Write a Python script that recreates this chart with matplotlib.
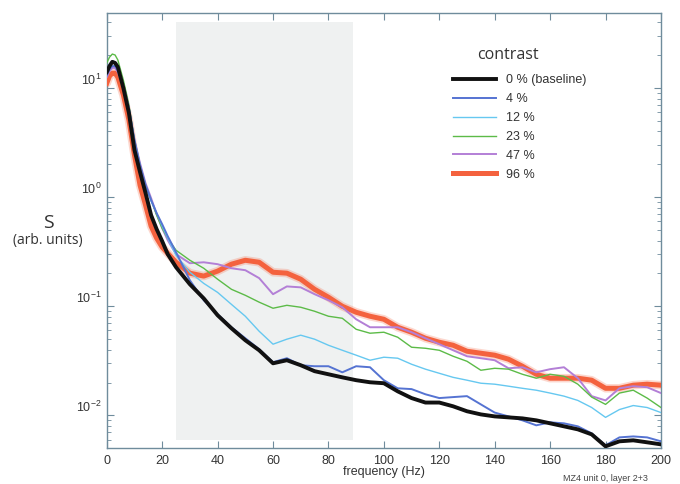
import numpy as np
import matplotlib
matplotlib.use('Agg')
import matplotlib.pyplot as plt
import matplotlib.transforms as mtransforms

plt.rcParams['font.family'] = ['Liberation Sans', 'DejaVu Sans']

# frequencies (Hz) at which the curves were read
freq = [0, 1, 2, 3, 4, 6, 8, 10, 12, 14, 16, 18, 20, 22,
        25, 30, 35, 40, 45, 50, 55, 60, 65, 70, 75, 80, 85, 90, 95, 100,
        105, 110, 115, 120, 125, 130, 135, 140, 145, 150, 155, 160, 165, 170,
        175, 180, 185, 190, 195, 200]

s_0 = [14.0, 15.9, 17.4, 17.0, 15.6, 10.0, 5.90, 2.70, 1.70, 1.09, 0.684, 0.509, 0.395, 0.300,
       0.228, 0.159, 0.118, 0.0827, 0.0628, 0.0488, 0.0395, 0.0300, 0.0320, 0.0288, 0.0254,
       0.0238, 0.0223, 0.0210, 0.0201, 0.0197, 0.0166, 0.0144, 0.0131, 0.0131, 0.0121, 0.0109,
       0.0102, 0.00978, 0.00958, 0.00938, 0.0090, 0.00845, 0.00793, 0.00744, 0.00669, 0.0052,
       0.00578, 0.0059, 0.00566, 0.00542]

s_4 = [13.1, 15.0, 15.9, 15.9, 14.6, 10.4, 6.55, 3.33, 1.96, 1.29, 0.94, 0.714, 0.565, 0.439,
       0.313, 0.173, 0.1135, 0.0845, 0.0642, 0.0509, 0.0404, 0.0307, 0.0334, 0.0288, 0.0282,
       0.0282, 0.0248, 0.0282, 0.0276, 0.0210, 0.0177, 0.0174, 0.0156, 0.0144, 0.0147, 0.0150,
       0.0126, 0.0106, 0.00978, 0.0090, 0.0081, 0.00863, 0.00845, 0.00793, 0.00684, 0.00531,
       0.00628, 0.00641, 0.00628, 0.00578]

s_12 = [14.6, 16.6, 17.7, 17.4, 15.9, 10.8, 6.55, 3.19, 1.92, 1.26, 0.921, 0.714, 0.542, 0.421,
        0.293, 0.205, 0.162, 0.134, 0.104, 0.0810, 0.0590, 0.0449, 0.0499, 0.0543, 0.0499,
        0.0439, 0.0395, 0.0356, 0.0320, 0.0341, 0.0334, 0.0294, 0.0265, 0.0243, 0.0223, 0.0210,
        0.0197, 0.0193, 0.0185, 0.0177, 0.0170, 0.0160, 0.0150, 0.0137, 0.0118, 0.00958,
        0.0113, 0.0123, 0.0118, 0.0106]

s_23 = [17.0, 19.2, 20.5, 20.1, 18.1, 11.8, 6.98, 3.33, 1.96, 1.29, 0.94, 0.684, 0.519, 0.421,
        0.326, 0.264, 0.223, 0.177, 0.143, 0.126, 0.109, 0.0959, 0.102, 0.0979, 0.0900,
        0.0810, 0.0776, 0.0615, 0.0566, 0.0578, 0.0520, 0.0421, 0.0412, 0.0395, 0.0348, 0.0313,
        0.0259, 0.0270, 0.0265, 0.0238, 0.0219, 0.0238, 0.0228, 0.0193, 0.0147, 0.0126,
        0.0160, 0.0170, 0.0144, 0.0118]

s_47 = [12.6, 14.3, 15.3, 15.3, 14.0, 10.0, 6.28, 3.33, 2.05, 1.34, 0.980, 0.699, 0.519, 0.403,
        0.300, 0.248, 0.253, 0.243, 0.223, 0.214, 0.181, 0.129, 0.152, 0.149, 0.129,
        0.1135, 0.0979, 0.0760, 0.0642, 0.0642, 0.0642, 0.0578, 0.0509, 0.0449, 0.0395, 0.0348,
        0.0334, 0.0320, 0.0270, 0.0276, 0.0248, 0.0265, 0.0276, 0.0219, 0.0150, 0.0137,
        0.0177, 0.0185, 0.0181, 0.0160]

s_96 = [11.1, 12.9, 13.7, 13.7, 12.6, 8.64, 5.09, 2.43, 1.29, 0.846, 0.542, 0.421, 0.348, 0.306,
        0.253, 0.201, 0.189, 0.210, 0.243, 0.264, 0.253, 0.205, 0.201, 0.177, 0.143,
        0.121, 0.100, 0.0881, 0.0810, 0.0760, 0.0642, 0.0578, 0.0509, 0.0468, 0.0439, 0.0387,
        0.0371, 0.0356, 0.0327, 0.0282, 0.0238, 0.0219, 0.0219, 0.0219, 0.0210, 0.0177,
        0.0177, 0.0189, 0.0193, 0.0189]

labels = ['0 % (baseline)', '4 %', '12 %', '23 %', '47 %', '96 %']
series = [s_0, s_4, s_12, s_23, s_47, s_96]
colors = ['#111111', '#5573d2', '#66c8f0', '#5cbb48', '#b37fd6', '#f4623e']
widths = [2.8, 1.4, 1.0, 1.0, 1.4, 3.6]
zorders = [8, 7, 6, 5, 4, 3]

fig = plt.figure(figsize=(6.8, 4.84), dpi=100)
ax = fig.add_axes([0.157, 0.074, 0.815, 0.899])

# analysis window
ax.axvspan(25, 89, ymin=0.018, ymax=0.98, color='#eff1f1', lw=0, zorder=0)

handles = []
for s, lab, c, w, z in zip(series, labels, colors, widths, zorders):
    if lab == '96 %':
        ax.plot(freq, s, color=c, lw=w + 2.5, alpha=0.25, zorder=z,
                solid_capstyle='round')
    h, = ax.plot(freq, s, color=c, lw=w, label=lab, zorder=z,
                 solid_joinstyle='round')
    handles.append(h)

ax.set_yscale('log')
ax.set_xlim(0, 200)
ax.set_ylim(0.005, 48.7)
ax.set_xticks(np.arange(0, 201, 20))
ax.set_yticks([0.01, 0.1, 1, 10])

spine_c = '#6f8c9c'
for sp in ax.spines.values():
    sp.set_color(spine_c)
    sp.set_linewidth(1.0)
ax.tick_params(which='both', direction='in', top=True, right=True,
               color=spine_c, labelcolor='#333333', labelsize=9)
ax.tick_params(which='major', length=5)
ax.tick_params(which='minor', length=3)
ax.tick_params(axis='x', pad=5)

# y tick labels sit a little above their ticks in the original
offset = mtransforms.ScaledTranslation(0, 0.09, fig.dpi_scale_trans)
for lbl in ax.get_yticklabels():
    lbl.set_transform(lbl.get_transform() + offset)

ax.set_xlabel('frequency (Hz)', fontsize=9, color='#333333', labelpad=-1)
fig.text(0.071, 0.54, 'S', fontsize=14, color='#333333', ha='center', va='center',
         family='Open Sans')
fig.text(0.071, 0.503, '(arb. units)', fontsize=10, color='#333333', ha='center',
         va='center', family='Open Sans')
fig.text(0.89, 0.012, 'MZ4 unit 0, layer 2+3', fontsize=6.5, color='#444444',
         ha='center', va='center')

fig.text(508 / 680, 1 - 55 / 484, 'contrast', fontsize=11.5, color='#333333',
         ha='center', va='center', family='Open Sans')
leg = ax.legend(handles=handles, loc='upper left',
                bbox_to_anchor=(0.605, 0.885), frameon=False, fontsize=9,
                handlelength=3.4, labelspacing=0.55, handletextpad=0.8)
for t in leg.get_texts():
    t.set_color('#333333')

fig.savefig('out.png', dpi=100)
